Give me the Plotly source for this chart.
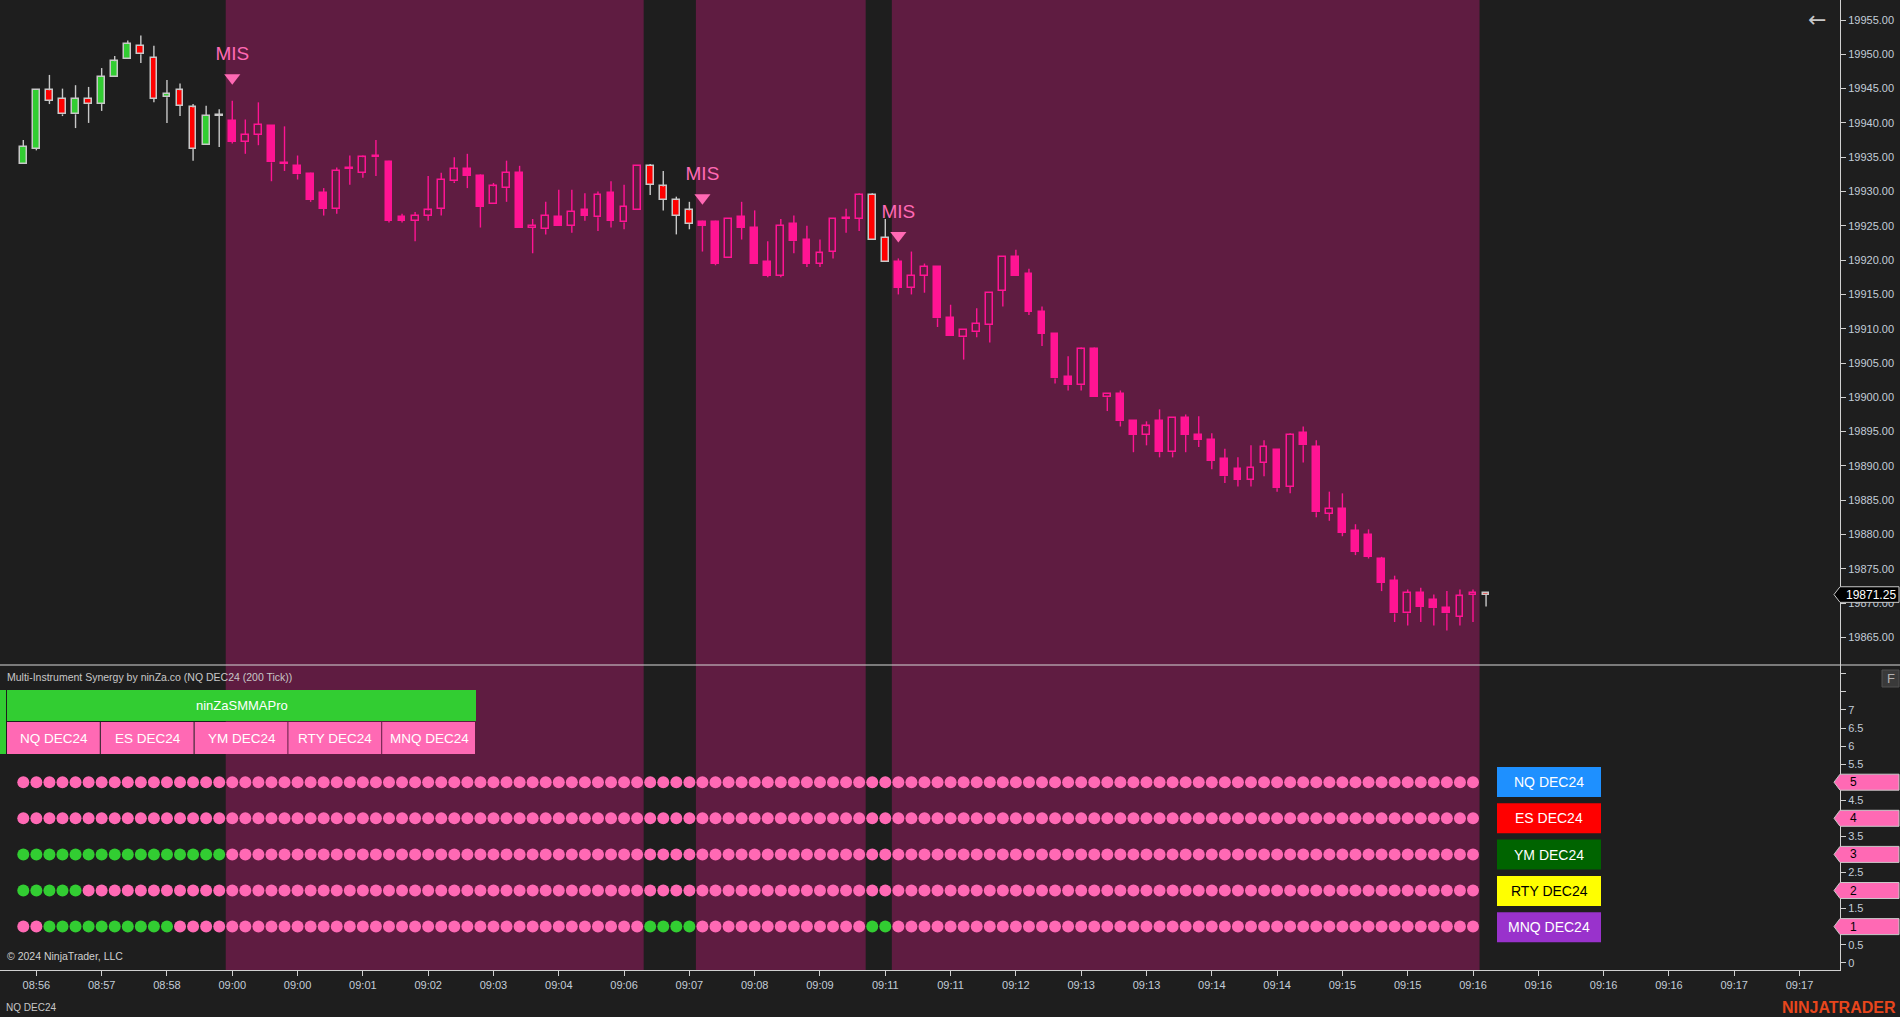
import plotly.graph_objects as go

W, H = 1900, 1017
BG = "#1e1e1e"
PURPLE = "#5f1c41"
PINK = "#ff1493"
HOT = "#ff69b4"
GREEN = "#32cd32"
RED = "#ff0000"
GRAY = "#c8c8c8"
TXT = "#c3cdd8"
FONT = "Liberation Sans, Arial, sans-serif"

# ---------------- data ----------------
opens = [19934.0, 19936.25, 19944.75, 19943.5, 19941.25, 19943.5, 19942.75, 19946.75, 19949.25, 19951.25,
         19949.5, 19943.75, 19944.75, 19942.25, 19936.75, 19941.0, 19940.25, 19937.25, 19938.25, 19939.5,
         19934.0, 19933.75, 19932.5, 19929.75, 19927.5, 19933.25, 19932.75, 19935.0, 19934.25, 19926.25,
         19925.75, 19926.5, 19927.5, 19931.5, 19933.25, 19932.25, 19928.25, 19930.5, 19932.75, 19924.75,
         19924.5, 19926.25, 19925.0, 19927.25, 19926.25, 19929.75, 19925.5, 19927.25, 19933.75, 19930.75,
         19928.75, 19927.25, 19925.5, 19925.5, 19920.25, 19926.25, 19924.75, 19919.75, 19917.75, 19925.25,
         19923.0, 19919.5, 19921.25, 19926.0, 19926.0, 19929.5, 19923.25, 19919.75, 19916.0, 19917.75,
         19919.0, 19911.5, 19908.75, 19909.5, 19910.5, 19915.5, 19920.5, 19918.0, 19912.5, 19909.25,
         19903.0, 19901.75, 19907.0, 19900.0, 19900.5, 19896.5, 19894.5, 19896.5, 19892.0, 19897.0,
         19894.5, 19893.75, 19891.0, 19889.5, 19888.0, 19890.5, 19892.25, 19887.0, 19894.75, 19892.75,
         19883.0, 19883.75, 19880.5, 19880.0, 19876.5, 19873.25, 19868.5, 19871.5, 19870.5, 19869.25,
         19868.0, 19871.25, 19871.5]
highs = [19937.5, 19944.75, 19947.0, 19945.0, 19945.5, 19945.25, 19948.0, 19949.75, 19952.0, 19952.75,
         19951.25, 19946.25, 19945.75, 19942.75, 19942.5, 19942.0, 19943.25, 19940.5, 19943.0, 19939.5,
         19939.5, 19935.25, 19932.75, 19930.5, 19933.5, 19935.25, 19935.25, 19937.5, 19934.5, 19926.75,
         19927.0, 19932.25, 19932.75, 19935.0, 19935.5, 19932.5, 19931.25, 19934.5, 19933.75, 19926.0,
         19928.5, 19930.25, 19930.25, 19929.75, 19930.0, 19931.5, 19931.0, 19933.75, 19934.0, 19933.0,
         19929.25, 19928.5, 19925.75, 19925.75, 19926.0, 19928.5, 19927.25, 19922.75, 19926.0, 19926.5,
         19925.0, 19923.0, 19926.0, 19927.5, 19929.75, 19929.75, 19926.0, 19920.25, 19921.25, 19919.5,
         19919.0, 19913.5, 19909.75, 19913.0, 19915.25, 19920.5, 19921.5, 19918.75, 19913.25, 19909.25,
         19906.0, 19907.25, 19907.25, 19900.5, 19901.0, 19896.5, 19896.5, 19898.25, 19897.0, 19897.5,
         19897.25, 19894.75, 19892.5, 19891.25, 19893.0, 19893.75, 19892.25, 19894.75, 19895.75, 19893.75,
         19886.25, 19886.0, 19881.5, 19880.75, 19876.75, 19874.0, 19872.0, 19872.25, 19871.25, 19871.75,
         19872.0, 19872.0, 19871.5]
lows = [19934.0, 19936.0, 19942.75, 19941.0, 19939.25, 19940.0, 19941.75, 19946.75, 19949.25, 19948.75,
        19943.0, 19940.0, 19941.0, 19934.5, 19936.75, 19936.5, 19937.0, 19935.5, 19936.75, 19931.5,
        19933.0, 19931.75, 19928.5, 19926.5, 19926.75, 19931.0, 19932.0, 19932.25, 19925.5, 19925.5,
        19922.75, 19925.75, 19926.5, 19931.25, 19930.5, 19924.75, 19928.25, 19928.5, 19924.75, 19921.0,
        19923.75, 19925.0, 19924.0, 19925.75, 19924.25, 19924.75, 19924.5, 19927.25, 19929.5, 19927.25,
        19923.75, 19924.5, 19921.25, 19919.25, 19920.25, 19923.0, 19919.5, 19917.5, 19917.5, 19921.0,
        19919.0, 19919.0, 19920.25, 19924.0, 19924.25, 19923.0, 19919.75, 19915.0, 19915.0, 19915.25,
        19910.25, 19909.0, 19905.5, 19908.75, 19908.0, 19913.25, 19917.75, 19912.0, 19907.5, 19902.0,
        19901.0, 19901.0, 19900.0, 19898.0, 19895.75, 19892.0, 19893.0, 19891.25, 19891.25, 19892.0,
        19892.75, 19889.5, 19887.5, 19887.0, 19887.0, 19888.5, 19886.25, 19886.0, 19890.5, 19882.5,
        19882.0, 19879.75, 19877.0, 19876.5, 19871.75, 19867.25, 19866.75, 19867.25, 19866.75, 19866.0,
        19866.75, 19867.25, 19869.5]
closes = [19936.5, 19944.75, 19943.25, 19941.25, 19943.5, 19942.75, 19946.75, 19949.0, 19951.5, 19950.0,
          19943.5, 19944.25, 19942.5, 19936.25, 19941.0, 19941.0, 19937.25, 19938.25, 19939.75, 19934.25,
          19934.0, 19932.5, 19928.75, 19927.5, 19933.0, 19933.25, 19935.0, 19935.25, 19925.75, 19925.75,
          19926.5, 19927.25, 19931.75, 19933.25, 19932.25, 19927.75, 19930.75, 19932.75, 19924.75, 19925.0,
          19926.5, 19925.0, 19927.0, 19926.5, 19929.5, 19925.75, 19927.75, 19933.75, 19931.0, 19928.75,
          19926.5, 19925.25, 19925.0, 19919.5, 19926.0, 19924.75, 19919.5, 19917.75, 19925.0, 19922.75,
          19919.5, 19921.0, 19926.0, 19926.0, 19929.5, 19923.0, 19919.75, 19916.0, 19917.75, 19919.0,
          19911.5, 19909.0, 19909.75, 19910.75, 19915.25, 19920.5, 19917.75, 19912.5, 19909.25, 19902.75,
          19901.75, 19907.0, 19900.0, 19900.5, 19896.5, 19894.5, 19895.75, 19892.0, 19897.0, 19894.5,
          19893.75, 19890.75, 19888.5, 19888.0, 19889.75, 19892.75, 19886.75, 19894.5, 19893.0, 19883.25,
          19883.75, 19880.25, 19877.5, 19876.75, 19873.0, 19868.5, 19871.5, 19869.5, 19869.25, 19868.5,
          19871.0, 19871.5, 19871.25]
bars = list(range(len(closes)))

# bars (first, last) painted with the bearish synergy background
shaded_ranges = [(16, 47), (52, 64), (67, 111)]
mis_bars = [16, 52, 67]

instruments = ["NQ DEC24", "ES DEC24", "YM DEC24", "RTY DEC24", "MNQ DEC24"]
inst_levels = [5, 4, 3, 2, 1]
inst_colors = ["#1e90ff", "#ff0000", "#006400", "#ffff00", "#9932cc"]
inst_text = ["#ffffff", "#ffffff", "#ffffff", "#000000", "#ffffff"]
# G = bullish (green), P = bearish (pink); one char per bar 0..111
dot_states = [
    "PPPPPPPPPP" "PPPPPPPPPP" "PPPPPPPPPP" "PPPPPPPPPP" "PPPPPPPPPP" "PPPPPPPPPP" "PPPPPPPPPP" "PPPPPPPPPP" "PPPPPPPPPP" "PPPPPPPPPP" "PPPPPPPPPP" "PP",
    "PPPPPPPPPP" "PPPPPPPPPP" "PPPPPPPPPP" "PPPPPPPPPP" "PPPPPPPPPP" "PPPPPPPPPP" "PPPPPPPPPP" "PPPPPPPPPP" "PPPPPPPPPP" "PPPPPPPPPP" "PPPPPPPPPP" "PP",
    "GGGGGGGGGG" "GGGGGGPPPP" "PPPPPPPPPP" "PPPPPPPPPP" "PPPPPPPPPP" "PPPPPPPPPP" "PPPPPPPPPP" "PPPPPPPPPP" "PPPPPPPPPP" "PPPPPPPPPP" "PPPPPPPPPP" "PP",
    "GGGGGPPPPP" "PPPPPPPPPP" "PPPPPPPPPP" "PPPPPPPPPP" "PPPPPPPPPP" "PPPPPPPPPP" "PPPPPPPPPP" "PPPPPPPPPP" "PPPPPPPPPP" "PPPPPPPPPP" "PPPPPPPPPP" "PP",
    "PPGGGGGGGG" "GGPPPPPPPP" "PPPPPPPPPP" "PPPPPPPPPP" "PPPPPPPPGG" "GGPPPPPPPP" "PPPPPGGPPP" "PPPPPPPPPP" "PPPPPPPPPP" "PPPPPPPPPP" "PPPPPPPPPP" "PP",
]

tick_bars = [1, 6, 11, 16, 21, 26, 31, 36, 41, 46, 51, 56, 61, 66, 71, 76, 81, 86, 91, 96,
             101, 106, 111, 116, 121, 126, 131, 136]
tick_labels = ["08:56", "08:57", "08:58", "09:00", "09:00", "09:01", "09:02", "09:03", "09:04", "09:06",
               "09:07", "09:08", "09:09", "09:11", "09:11", "09:12", "09:13", "09:13", "09:14", "09:14",
               "09:15", "09:15", "09:16", "09:16", "09:16", "09:16", "09:17", "09:17"]
price_ticks = [19865, 19870, 19875, 19880, 19885, 19890, 19895, 19900, 19905, 19910,
               19915, 19920, 19925, 19930, 19935, 19940, 19945, 19950, 19955]
ind_ticks = [0, 0.5, 1, 1.5, 2, 2.5, 3, 3.5, 4, 4.5, 5, 5.5, 6, 6.5, 7, 7.5, 8]
ind_tick_text = ["0", "0.5", "1", "1.5", "2", "2.5", "3", "3.5", "4", "4.5", "5", "5.5", "6", "6.5", "7", "", ""]

# ---------------- helpers ----------------
def px(x):
    return x / W

def py(y):
    return 1 - y / H

def shaded(i):
    return any(a <= i <= b for a, b in shaded_ranges)

def note(text, x, y, size, color, xanchor="center", xref="paper", yref="paper", family=FONT):
    return dict(text=text, xref=xref, yref=yref, x=x, y=y, xanchor=xanchor, yanchor="middle",
                showarrow=False, font=dict(family=family, size=size, color=color))

fig = go.Figure()

# candles: bodies as bars, wicks as line segments
groups = {
    ("dark", True): dict(fill=GREEN, line=GRAY),
    ("dark", False): dict(fill=RED, line=GRAY),
    ("pink", True): dict(fill="rgba(0,0,0,0)", line=PINK),
    ("pink", False): dict(fill=PINK, line=PINK),
}
for (zone, up), sty in groups.items():
    xs, bases, hts, wx, wy = [], [], [], [], []
    for i in bars:
        z = "pink" if shaded(i) else "dark"
        u = closes[i] >= opens[i]
        if z != zone or u != up:
            continue
        top = max(opens[i], closes[i])
        bot = min(opens[i], closes[i])
        xs.append(i)
        bases.append(bot)
        hts.append(max(top - bot, 0.12))
        wx += [i, i, None, i, i, None]
        wy += [highs[i], top, None, bot, lows[i], None]
    fig.add_trace(go.Scatter(x=wx, y=wy, mode="lines", line=dict(color=sty["line"], width=1.4),
                             hoverinfo="skip", xaxis="x", yaxis="y"))
    fig.add_trace(go.Bar(x=xs, y=hts, base=bases, width=0.52,
                         marker=dict(color=sty["fill"], line=dict(color=sty["line"], width=1.5)),
                         hoverinfo="skip", xaxis="x", yaxis="y"))

# MIS signals
fig.add_trace(go.Scatter(x=mis_bars, y=[highs[b] + 3.35 for b in mis_bars], mode="markers",
                         marker=dict(symbol="triangle-down", size=14, color=HOT, line=dict(width=0)),
                         hoverinfo="skip", xaxis="x", yaxis="y"))
fig.add_trace(go.Scatter(x=mis_bars, y=[highs[b] + 6.6 for b in mis_bars], mode="text", text=["MIS"] * len(mis_bars),
                         textfont=dict(family=FONT, size=19, color=HOT), hoverinfo="skip", xaxis="x", yaxis="y"))

# synergy dots
for lvl, states in zip(inst_levels, dot_states):
    n = len(states)
    fig.add_trace(go.Scatter(x=bars[:n], y=[lvl] * n, mode="markers",
                             marker=dict(size=12, color=[GREEN if s == "G" else HOT for s in states], line=dict(width=0)),
                             hoverinfo="skip", xaxis="x2", yaxis="y2"))

shapes = []
for a, b in shaded_ranges:
    shapes.append(dict(type="rect", xref="x", yref="paper", x0=a - 0.5, x1=b + 0.5, y0=py(970), y1=1,
                       fillcolor=PURPLE, line=dict(width=0), layer="below"))
# panel separator
shapes.append(dict(type="line", xref="paper", yref="paper", x0=0, x1=1, y0=py(665), y1=py(665),
                   line=dict(color="#d8d8d8", width=1)))

annotations = []
annotations.append(note("Multi-Instrument Synergy by ninZa.co (NQ DEC24 (200 Tick))", px(5), py(677), 10.5,
                        "#c8c8c8", xanchor="left"))
# table
shapes.append(dict(type="rect", xref="paper", yref="paper", x0=px(0), x1=px(6), y0=py(754), y1=py(690),
                   fillcolor=GREEN, line=dict(width=0)))
shapes.append(dict(type="rect", xref="paper", yref="paper", x0=px(7), x1=px(476), y0=py(721), y1=py(690),
                   fillcolor=GREEN, line=dict(width=0)))
annotations.append(note("ninZaSMMAPro", px(241.5), py(705.5), 13, "#ffffff"))
cell_w = 469 / 5
for k, name in enumerate(instruments):
    x0 = 7 + k * cell_w
    shapes.append(dict(type="rect", xref="paper", yref="paper", x0=px(x0), x1=px(x0 + cell_w - 1),
                       y0=py(754), y1=py(722), fillcolor=HOT, line=dict(width=0)))
    annotations.append(note(name, px(x0 + cell_w / 2), py(738), 13.5, "#ffffff"))

# legend boxes
for k, (name, col, tc) in enumerate(zip(instruments, inst_colors, inst_text)):
    y0 = 767 + k * 36.3
    shapes.append(dict(type="rect", xref="paper", yref="paper", x0=px(1497), x1=px(1601),
                       y0=py(y0 + 30), y1=py(y0), fillcolor=col, line=dict(width=0)))
    annotations.append(note(name, px(1549), py(y0 + 15), 14, tc))

# value tags on indicator axis
hh = 8 / 36.1
for lvl in inst_levels:
    path = (f"M {px(1834)},{lvl} L {px(1840)},{lvl + hh} L {px(1899)},{lvl + hh} "
            f"L {px(1899)},{lvl - hh} L {px(1840)},{lvl - hh} Z")
    shapes.append(dict(type="path", xref="paper", yref="y2", path=path, fillcolor=HOT,
                       line=dict(color=GRAY, width=1), layer="above"))
    annotations.append(note(str(lvl), px(1848), lvl, 12, "#000000", xanchor="left", yref="y2"))

# last price tag
last = closes[-1]
ph = 7.8 / 6.86
path = (f"M {px(1834)},{last} L {px(1840)},{last + ph} L {px(1899)},{last + ph} "
        f"L {px(1899)},{last - ph} L {px(1840)},{last - ph} Z")
shapes.append(dict(type="path", xref="paper", yref="y", path=path, fillcolor="#000000",
                   line=dict(color=GRAY, width=1), layer="above"))
annotations.append(note(f"{last:.2f}", px(1871), last, 12, "#ffffff", yref="y"))

# F button
shapes.append(dict(type="rect", xref="paper", yref="paper", x0=px(1882), x1=px(1899), y0=py(687), y1=py(670),
                   fillcolor="#3a3a3a", line=dict(color="#505050", width=1)))
annotations.append(note("F", px(1890.5), py(678.5), 13, "#b0b0b0"))
# back arrow
annotations.append(note("←", px(1817), py(20), 22, "#c8c8c8", family="DejaVu Sans"))
# footer texts
annotations.append(note("© 2024 NinjaTrader, LLC", px(5), py(956), 10.5, "#d0d0d0", xanchor="left"))
annotations.append(note("NQ DEC24", px(4), py(1007), 10, "#c8c8c8", xanchor="left"))
annotations.append(note("<b>NINJATRADER</b>", px(1898), py(1007), 16, "#e8461c", xanchor="right"))

x_range = [-1.784, 139.1]
axis_common = dict(showgrid=False, zeroline=False, linecolor="#d0d0d0", tickcolor="#d0d0d0",
                   tickfont=dict(family=FONT, size=11, color=TXT), fixedrange=True)

fig.update_layout(
    width=W, height=H, margin=dict(l=0, r=0, t=0, b=0),
    paper_bgcolor=BG, plot_bgcolor=BG, showlegend=False, barmode="overlay", bargap=0,
    font=dict(family=FONT, size=11, color=TXT),
    xaxis=dict(domain=[0, 1840 / W], range=x_range, anchor="y", showticklabels=False, showline=False,
               ticks="", **axis_common),
    xaxis2=dict(domain=[0, 1840 / W], range=x_range, matches="x", anchor="y2", showline=True, ticks="outside",
                ticklen=5, tickvals=tick_bars, ticktext=tick_labels, **axis_common),
    yaxis=dict(domain=[py(665), 1], range=[19860.98, 19957.92], anchor="x", side="right", showline=True,
               ticks="outside", ticklen=5, tickvals=price_ticks, ticktext=[f"{v:.2f}" for v in price_ticks],
               **axis_common),
    yaxis2=dict(domain=[py(970), py(665)], range=[-0.202, 8.246], anchor="x2", side="right", showline=True,
                ticks="outside", ticklen=5, tickvals=ind_ticks, ticktext=ind_tick_text, **axis_common),
    shapes=shapes, annotations=annotations, hovermode=False,
)

fig.write_html("out.html", config={"displayModeBar": False},
               post_script="document.body.style.margin='0px';document.body.style.overflow='hidden';")
